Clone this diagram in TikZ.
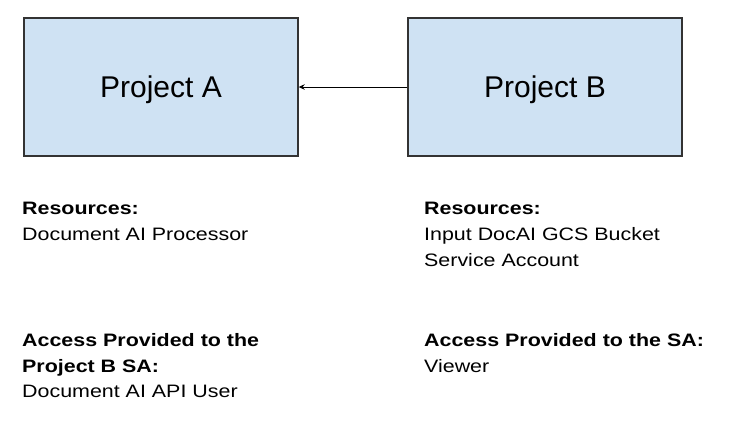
\documentclass[tikz,border=0pt]{standalone}
\usepackage{fontspec}
\setmainfont{Liberation Sans}
\newfontfamily\smallfam[FakeStretch=1.19]{Liberation Sans}
\newfontfamily\smallbold[FakeStretch=1.19]{Liberation Sans Bold}
\usetikzlibrary{arrows.meta}
\definecolor{boxfill}{HTML}{CFE2F3}
\definecolor{boxline}{HTML}{333333}
\tikzset{
  projbox/.style={draw=boxline, line width=1.4pt, fill=boxfill, minimum width=274pt, minimum height=138pt, inner sep=0pt, font=\fontsize{30}{36}\selectfont, text height=21.5pt, text depth=0pt},
  headtxt/.style={anchor=base west, inner sep=0pt, font=\smallbold\fontsize{18}{21}\selectfont},
  bodytxt/.style={anchor=base west, inner sep=0pt, font=\smallfam\fontsize{18}{21}\selectfont},
  conn/.style={draw=black, line width=1pt, -{Stealth[length=6pt,width=5.5pt]}}
}
\begin{document}
\begin{tikzpicture}[x=1pt,y=1pt]
\useasboundingbox (0,0) rectangle (736,-426);
\node[projbox] (A) at (161,-87) {Project A};
\node[projbox] (B) at (545,-87) {Project B};
\draw[conn] (B.west) -- (A.east);
% left column
\node[headtxt] (ra) at (22,-214) {Resources:};
\node[bodytxt] (ra1) at (22,-240) {Document AI Processor};
\node[headtxt] (aa) at (22,-346) {Access Provided to the};
\node[headtxt] (aa2) at (22,-372) {Project B SA:};
\node[bodytxt] (aa3) at (22,-397) {Document AI API User};
% right column
\node[headtxt] (rb) at (424,-214) {Resources:};
\node[bodytxt] (rb1) at (424,-240) {Input DocAI GCS Bucket};
\node[bodytxt] (rb2) at (424,-266) {Service Account};
\node[headtxt] (ab) at (424,-346) {Access Provided to the SA:};
\node[bodytxt] (ab1) at (424,-372) {Viewer};
\end{tikzpicture}
\end{document}
